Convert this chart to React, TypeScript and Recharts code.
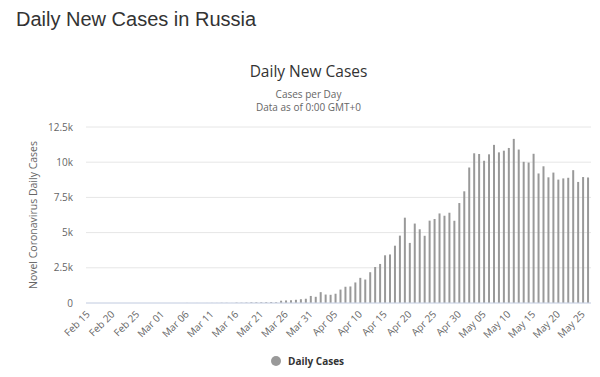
import React from 'react';
import { BarChart, Bar, XAxis, YAxis, CartesianGrid, Label } from 'recharts';

const monthSpans: [string, number, number][] = [
  ['Feb', 15, 29],
  ['Mar', 1, 31],
  ['Apr', 1, 30],
  ['May', 1, 26],
];

const dates: string[] = [];
monthSpans.forEach(([m, s, e]) => {
  for (let d = s; d <= e; d++) dates.push(`${m} ${d < 10 ? '0' + d : d}`);
});

const febCases = [0, 0, 0, 0, 0, 0, 0, 0, 0, 0, 0, 0, 0, 0, 0];
const marCases = [
  0, 1, 0, 0, 1, 6, 0, 3, 0, 3, 8, 6, 17, 14, 4, 30, 21, 33, 52, 54, 53, 61, 71, 57, 163,
  182, 196, 228, 270, 302, 501,
];
const aprCases = [
  440, 771, 601, 582, 658, 954, 1154, 1175, 1459, 1786, 1667, 2186, 2558, 2774, 3388,
  3448, 4070, 4785, 6060, 4268, 5642, 5236, 4774, 5849, 5966, 6361, 6198, 6411, 5841, 7099,
];
const mayCases = [
  7933, 9623, 10633, 10581, 10102, 10559, 11231, 10699, 10817, 11012, 11656, 10899, 10028,
  9974, 10598, 9200, 9709, 8926, 9263, 8764, 8849, 8894, 9434, 8599, 8946, 8915,
];
const dailyCases = [...febCases, ...marCases, ...aprCases, ...mayCases];

const yTicks = [0, 2500, 5000, 7500, 10000, 12500];
const yTickLabels = ['0', '2.5k', '5k', '7.5k', '10k', '12.5k'];

const data = dates.map((date, i) => ({ date, cases: dailyCases[i] }));

const FONT = '"Open Sans", sans-serif';

const XTick = (props: any) => {
  const { x, y, payload } = props;
  return (
    <text
      x={x + 2}
      y={y + 4}
      transform={`rotate(-45, ${x + 2}, ${y + 4})`}
      textAnchor="end"
      fontSize={10}
      fill="#666"
      fontFamily={FONT}
    >
      {payload.value}
    </text>
  );
};

const YTick = (props: any) => {
  const { y, payload } = props;
  const idx = yTicks.indexOf(payload.value);
  return (
    <text x={73} y={y + 3.5} textAnchor="end" fontSize={10} fill="#666" fontFamily={FONT}>
      {yTickLabels[idx]}
    </text>
  );
};

export default function App() {
  return (
    <div style={{ position: 'absolute', left: 0, top: 0, width: 600, height: 377, background: '#fff' }}>
      <BarChart
        width={600}
        height={377}
        data={data}
        margin={{ top: 127, right: 9, left: 0, bottom: 0 }}
        style={{ fontFamily: FONT }}
      >
        <CartesianGrid vertical={false} stroke="#e6e6e6" />
        <XAxis
          dataKey="date"
          interval={4}
          height={74}
          tickLine={false}
          axisLine={{ stroke: '#ccd6eb' }}
          tick={<XTick />}
        />
        <YAxis
          width={86}
          domain={[0, 12500]}
          ticks={yTicks}
          axisLine={false}
          tickLine={false}
          tick={<YTick />}
        >
          <Label
            content={() => (
              <text
                x={37}
                y={215}
                transform="rotate(-90, 37, 215)"
                textAnchor="middle"
                fontSize={10.5}
                fill="#666"
                fontFamily={FONT}
              >
                Novel Coronavirus Daily Cases
              </text>
            )}
          />
        </YAxis>
        <Bar dataKey="cases" fill="#999" barSize={2} isAnimationActive={false} />
      </BarChart>
      <svg
        width={600}
        height={377}
        style={{ position: 'absolute', left: 0, top: 0, pointerEvents: 'none' }}
      >
        <text x={16} y={26} fontSize={20} fill="#333" fontFamily='"Liberation Sans", Arial, sans-serif'>
          Daily New Cases in Russia
        </text>
        <text x={308.5} y={77} textAnchor="middle" fontSize={15.5} fill="#333" fontFamily={FONT}>
          Daily New Cases
        </text>
        <text x={308.5} y={97.5} textAnchor="middle" fontSize={10} fill="#666" fontFamily={FONT}>
          Cases per Day
        </text>
        <text x={308.5} y={110.5} textAnchor="middle" fontSize={10} fill="#666" fontFamily={FONT}>
          Data as of 0:00 GMT+0
        </text>
        <circle cx={276} cy={361} r={5} fill="#999" />
        <text x={288} y={364.5} fontSize={10} fontWeight="bold" fill="#333" fontFamily={FONT}>
          Daily Cases
        </text>
      </svg>
    </div>
  );
}
